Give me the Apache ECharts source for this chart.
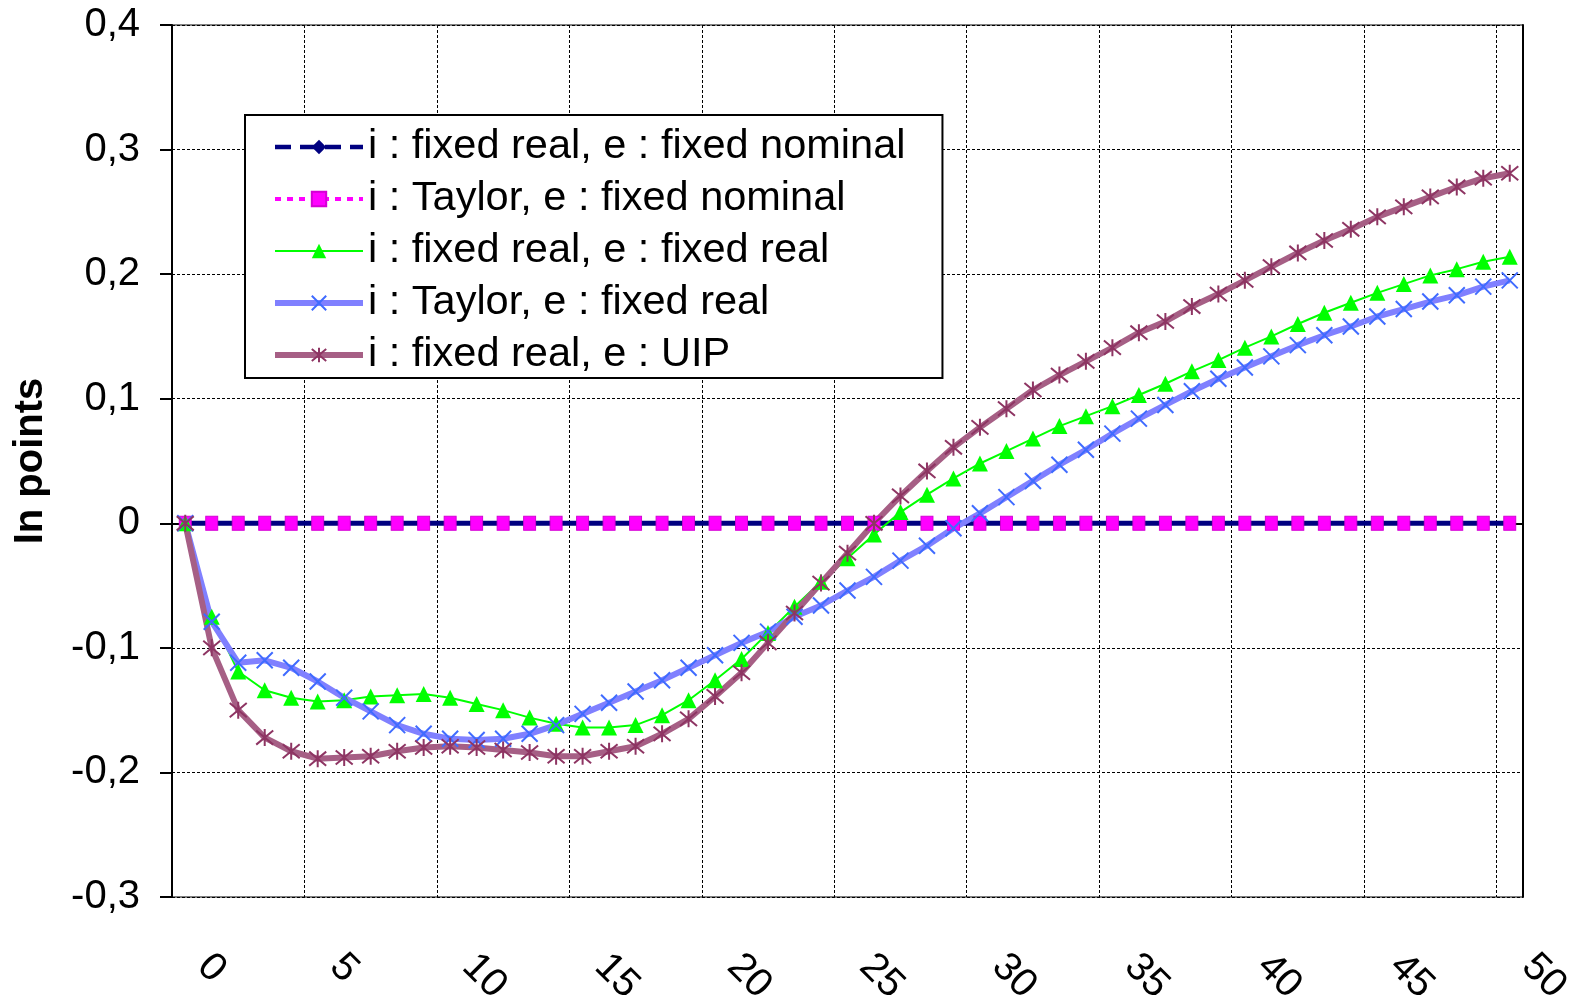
<!DOCTYPE html>
<html>
<head>
<meta charset="utf-8">
<script src="https://cdn.jsdelivr.net/npm/echarts@6/dist/echarts.min.js"></script>
<style>
  html, body { margin: 0; padding: 0; background: #ffffff; }
  #chart { width: 1573px; height: 995px; }
</style>
</head>
<body>
<div id="chart"></div>
<script>
// Quarters after the shock
const periods = ['0','1','2','3','4','5','6','7','8','9','10','11','12','13','14','15','16','17','18','19','20',
  '21','22','23','24','25','26','27','28','29','30','31','32','33','34','35','36','37','38','39','40',
  '41','42','43','44','45','46','47','48','49','50'];

// Series names
const seriesNames = [
  'i : fixed real, e : fixed nominal',
  'i : Taylor, e : fixed nominal',
  'i : fixed real, e : fixed real',
  'i : Taylor, e : fixed real',
  'i : fixed real, e : UIP'
];

// Responses (in points)
const fixedRealFixedNominal = [0,0,0,0,0,0,0,0,0,0,0,0,0,0,0,0,0,0,0,0,0,0,0,0,0,0,0,0,0,0,0,0,0,0,0,0,0,0,0,0,0,0,0,0,0,0,0,0,0,0,0];
const taylorFixedNominal    = [0,0,0,0,0,0,0,0,0,0,0,0,0,0,0,0,0,0,0,0,0,0,0,0,0,0,0,0,0,0,0,0,0,0,0,0,0,0,0,0,0,0,0,0,0,0,0,0,0,0,0];
const fixedRealFixedReal = [
  0, -0.075, -0.119, -0.134, -0.140, -0.143, -0.142, -0.139, -0.138, -0.137,
  -0.140, -0.145, -0.150, -0.156, -0.161, -0.164, -0.164, -0.162, -0.154, -0.142,
  -0.126, -0.109, -0.088, -0.067, -0.047, -0.028, -0.009, 0.009, 0.023, 0.036,
  0.048, 0.058, 0.068, 0.078, 0.086, 0.094, 0.103, 0.112, 0.122, 0.131,
  0.141, 0.150, 0.160, 0.169, 0.177, 0.185, 0.192, 0.199, 0.204, 0.210, 0.214
];
const taylorFixedReal = [
  0, -0.079, -0.112, -0.110, -0.116, -0.127, -0.140, -0.151, -0.162, -0.169,
  -0.173, -0.174, -0.173, -0.169, -0.162, -0.153, -0.144, -0.135, -0.126, -0.116,
  -0.106, -0.096, -0.087, -0.075, -0.066, -0.054, -0.043, -0.030, -0.018, -0.004,
  0.008, 0.021, 0.034, 0.047, 0.059, 0.072, 0.084, 0.095, 0.106, 0.116,
  0.125, 0.134, 0.143, 0.151, 0.158, 0.166, 0.172, 0.178, 0.183, 0.190, 0.195
];
const fixedRealUIP = [
  0, -0.100, -0.150, -0.172, -0.183, -0.189, -0.188, -0.187, -0.183, -0.180,
  -0.179, -0.180, -0.182, -0.184, -0.187, -0.187, -0.183, -0.179, -0.169, -0.157,
  -0.139, -0.120, -0.096, -0.072, -0.048, -0.024, 0.000, 0.022, 0.042, 0.061,
  0.077, 0.092, 0.107, 0.119, 0.130, 0.141, 0.153, 0.162, 0.174, 0.184,
  0.195, 0.206, 0.217, 0.227, 0.236, 0.246, 0.254, 0.262, 0.270, 0.277, 0.281
];

// Value axis range
const yMin = -0.3, yMax = 0.4, yStep = 0.1;

const FONT = 'Liberation Sans, Arial, sans-serif';
const crossPath = 'path://M0 0L10 10M10 0L0 10';
const asteriskPath = 'path://M0 0L10 10M10 0L0 10M5 -1L5 11';

// Colours
const navy = '#000080', magenta = '#ff00ff', green = '#00ff00';
const blueLine = '#8080ff', blueMark = '#3f6bff';
const uipLine = '#a65f85', uipMark = '#8e3563';

const chart = echarts.init(document.getElementById('chart'), null, { renderer: 'canvas' });

const gridLine = { color: '#000000', width: 1, type: [3, 2] };

chart.setOption({
  animation: false,
  backgroundColor: '#ffffff',
  grid: {
    left: 172, top: 25, right: 50, bottom: 98,
    outerBoundsMode: 'none', containLabel: false,
    show: true, borderColor: '#000000', borderWidth: 1
  },
  xAxis: {
    type: 'category',
    data: periods,
    boundaryGap: true,
    axisLine: { show: true, lineStyle: { color: '#000000', width: 2 } },
    axisTick: { show: false },
    splitLine: { show: true, interval: 4, lineStyle: gridLine },
    axisLabel: {
      interval: 4, rotate: -45, margin: 45, padding: [0, 0, 0, 26],
      fontFamily: FONT, fontSize: 40, color: '#000000'
    }
  },
  yAxis: [{
    type: 'value',
    min: yMin, max: yMax, interval: yStep,
    name: 'In points',
    nameLocation: 'middle',
    nameGap: 121,
    nameTextStyle: { fontFamily: FONT, fontSize: 40, fontWeight: 'bold', color: '#000000' },
    axisLine: { show: true, lineStyle: { color: '#000000', width: 2 } },
    axisTick: { show: true, length: 12, lineStyle: { color: '#000000', width: 2 } },
    splitLine: { show: true, lineStyle: gridLine },
    axisLabel: {
      margin: 32, fontFamily: FONT, fontSize: 40, color: '#000000',
      formatter: v => {
        const r = Math.round(v * 10) / 10;
        return r === 0 ? '0' : r.toFixed(1).replace('.', ',');
      }
    }
  }, {
    type: 'value',
    position: 'right',
    min: yMin, max: yMax, interval: yStep,
    axisLine: { show: true, lineStyle: { color: '#000000', width: 2 } },
    axisTick: { show: false },
    axisLabel: { show: false },
    splitLine: { show: false }
  }],
  legend: {
    orient: 'vertical',
    left: 245, top: 115,
    backgroundColor: '#ffffff',
    borderColor: '#000000', borderWidth: 2,
    padding: [10, 37, 1, 27],
    itemWidth: 88, itemHeight: 18, itemGap: 8,
    textStyle: { fontFamily: FONT, fontSize: 41.5, lineHeight: 44, color: '#000000' },
    data: [
      { name: seriesNames[0], lineStyle: { type: [16, 9], width: 4.5, color: navy } },
      { name: seriesNames[1], lineStyle: { type: [6, 6], width: 4, color: magenta, opacity: 1 } },
      { name: seriesNames[2], lineStyle: { type: 'solid', width: 2, color: green } },
      { name: seriesNames[3], lineStyle: { type: 'solid', width: 6, color: blueLine } },
      { name: seriesNames[4], lineStyle: { type: 'solid', width: 6, color: uipLine } }
    ]
  },
  series: [
    {
      name: seriesNames[0], type: 'line', data: fixedRealFixedNominal,
      symbol: 'diamond', symbolSize: 11, showAllSymbol: true,
      lineStyle: { color: navy, width: 5 },
      itemStyle: { color: navy }
    },
    {
      name: seriesNames[1], type: 'line', data: taylorFixedNominal,
      symbol: 'rect', symbolSize: [12, 14], showAllSymbol: true,
      lineStyle: { color: magenta, width: 0, opacity: 0 },
      itemStyle: { color: magenta, borderColor: '#d400d4', borderWidth: 1 }
    },
    {
      name: seriesNames[2], type: 'line', data: fixedRealFixedReal,
      symbol: 'triangle', symbolSize: 16, showAllSymbol: true,
      lineStyle: { color: green, width: 2 },
      itemStyle: { color: green }
    },
    {
      name: seriesNames[3], type: 'line', data: taylorFixedReal,
      symbol: crossPath, symbolSize: 16, showAllSymbol: true,
      lineStyle: { color: blueLine, width: 6 },
      itemStyle: { color: blueMark, borderColor: blueMark, borderWidth: 2 }
    },
    {
      name: seriesNames[4], type: 'line', data: fixedRealUIP,
      symbol: asteriskPath, symbolSize: 17, showAllSymbol: true,
      lineStyle: { color: uipLine, width: 6 },
      itemStyle: { color: uipMark, borderColor: uipMark, borderWidth: 2 }
    }
  ]
});
</script>
</body>
</html>
